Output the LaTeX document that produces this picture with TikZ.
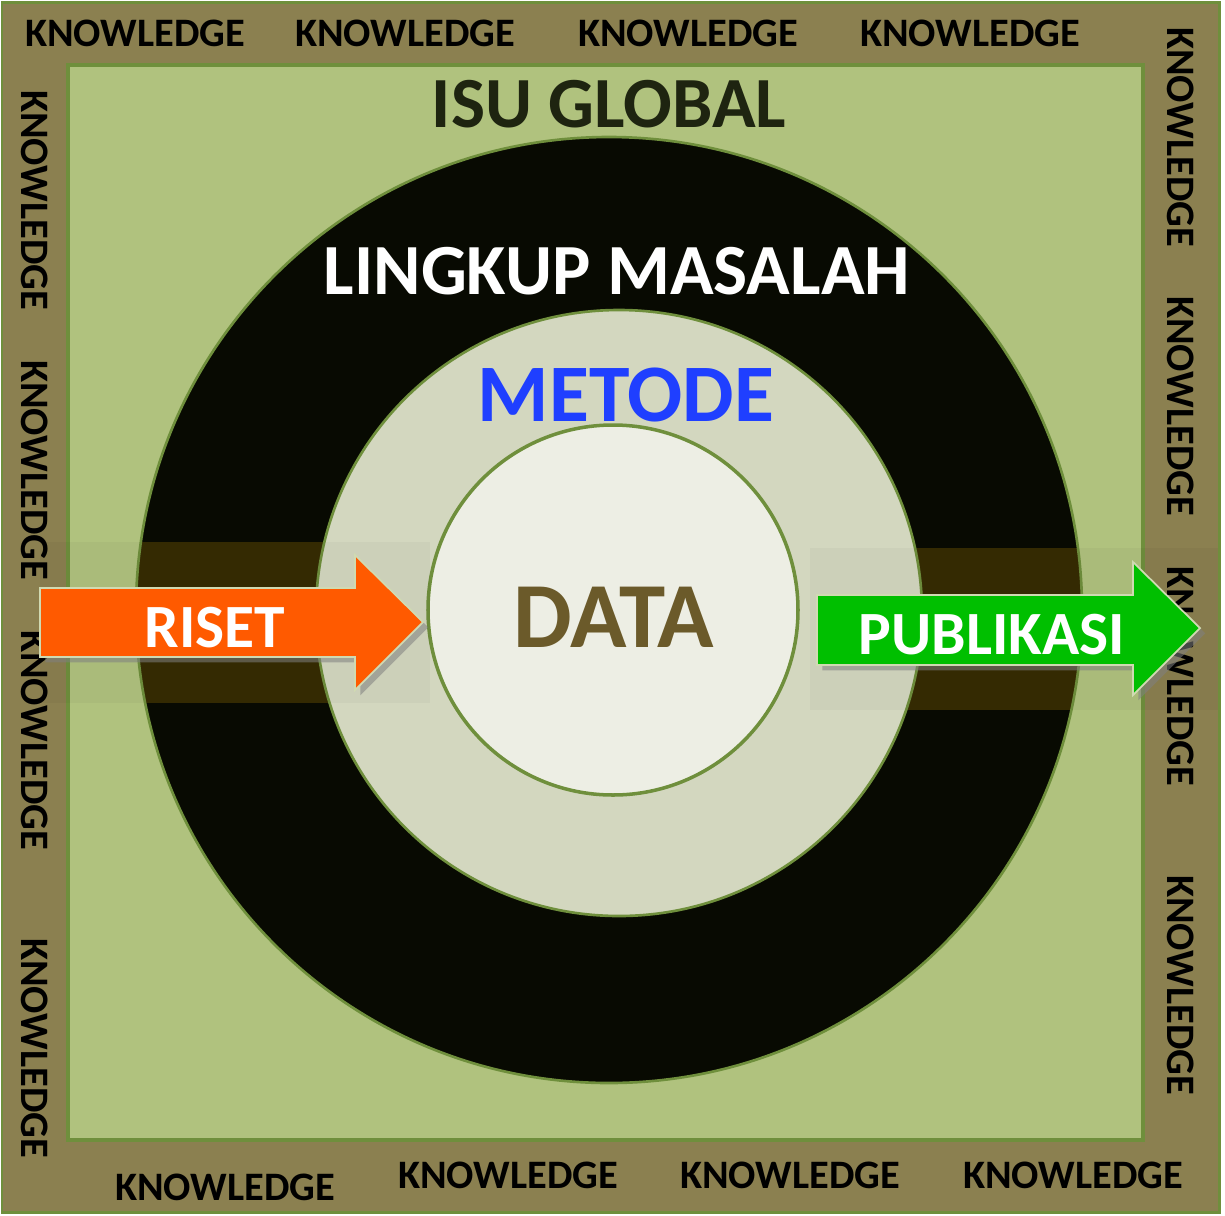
\documentclass[tikz,border=0pt]{standalone}
\usepackage{fontspec}
\setmainfont{Carlito}
\usetikzlibrary{shadows}
\definecolor{framebrown}{HTML}{8B8050}
\definecolor{fieldgreen}{HTML}{B0C27E}
\definecolor{edgegreen}{HTML}{6F8F3C}
\definecolor{ringblack}{HTML}{080A02}
\definecolor{ringgrey}{HTML}{D3D7BF}
\definecolor{coredata}{HTML}{EDEEE4}
\definecolor{bandolive}{HTML}{362C03}
\definecolor{isudark}{HTML}{1E2410}
\definecolor{metodeblue}{HTML}{1F3FFF}
\definecolor{dataolive}{HTML}{6B5A2A}
\definecolor{risetorange}{HTML}{FF5A00}
\definecolor{pubgreen}{HTML}{00BF00}
\tikzset{
  kw/.style={font=\fontsize{23}{23}\selectfont\bfseries, text=black, inner sep=0pt},
  kwv/.style={kw, rotate=-90},
  bigtext/.style={font=\fontsize{#1}{#1}\selectfont\bfseries, inner sep=0pt},
  arrowbody/.style={draw=fieldgreen!60!white, line width=1pt,
    drop shadow={shadow xshift=3pt, shadow yshift=-3pt, opacity=0.55}},
}
\begin{document}
\begin{tikzpicture}[x=0.02cm, y=-0.02cm]
    \useasboundingbox (0,0) rectangle (1225,1215);
    % frame and field
    \draw[edgegreen, line width=1.7pt, fill=framebrown] (2,2) rectangle (1219,1212);
    \draw[edgegreen, line width=2.3pt, fill=fieldgreen] (68,65) rectangle (1143,1140);
    % knowledge all around
    \foreach \x [count=\i] in {135,405,688,970}
        \node[kw] (top\i) at (\x,33) {KNOWLEDGE};
    \foreach \x/\y [count=\i] in {225/1187,508/1175,790/1175,1073/1175}
        \node[kw] (bot\i) at (\x,\y) {KNOWLEDGE};
    \foreach \y [count=\i] in {200,470,740,1048}
        \node[kwv] (left\i) at (35,\y) {KNOWLEDGE};
    \foreach \y [count=\i] in {137,406,676,985}
        \node[kwv] (right\i) at (1181,\y) {KNOWLEDGE};
    % rings
    \fill[ringblack] (609,610) circle[radius=473];
    \begin{scope}
        \clip (609,610) circle[radius=473];
        \fill[bandolive] (40,542) rectangle (430,703);
        \fill[bandolive] (810,548) rectangle (1218,710);
    \end{scope}
    \draw[edgegreen, line width=1.5pt] (609,610) circle[radius=473];
    \draw[edgegreen, line width=1.5pt, fill=ringgrey] (619,613) circle[radius=303];
    \draw[edgegreen, line width=2pt, fill=coredata] (613,610) circle[radius=185];
    % faint band
    \fill[black, opacity=0.03] (40,542) rectangle (430,703);
    \fill[black, opacity=0.03] (810,548) rectangle (1218,710);
    % titles
    \node[bigtext=41, text=isudark] (isu) at (609,104) {ISU GLOBAL};
    \node[bigtext=41, text=white] (lingkup) at (617,271) {LINGKUP MASALAH};
    \node[bigtext=46.5, text=metodeblue] (metode) at (626,395) {METODE};
    \node[bigtext=53, text=dataolive] (data) at (614,617) {DATA};
    % arrows in and out
    \draw[arrowbody, fill=risetorange] (40,588) -- (355,588) -- (355,555) -- (423,622)
        -- (355,690) -- (355,657) -- (40,657) -- cycle;
    \node[bigtext=35, text=white] (riset) at (215,628) {RISET};
    \draw[arrowbody, fill=pubgreen] (817,595) -- (1133,595) -- (1133,562) -- (1200,628)
        -- (1133,695) -- (1133,665) -- (817,665) -- cycle;
    \node[bigtext=35, text=white] (publikasi) at (992,635) {PUBLIKASI};
\end{tikzpicture}
\end{document}
